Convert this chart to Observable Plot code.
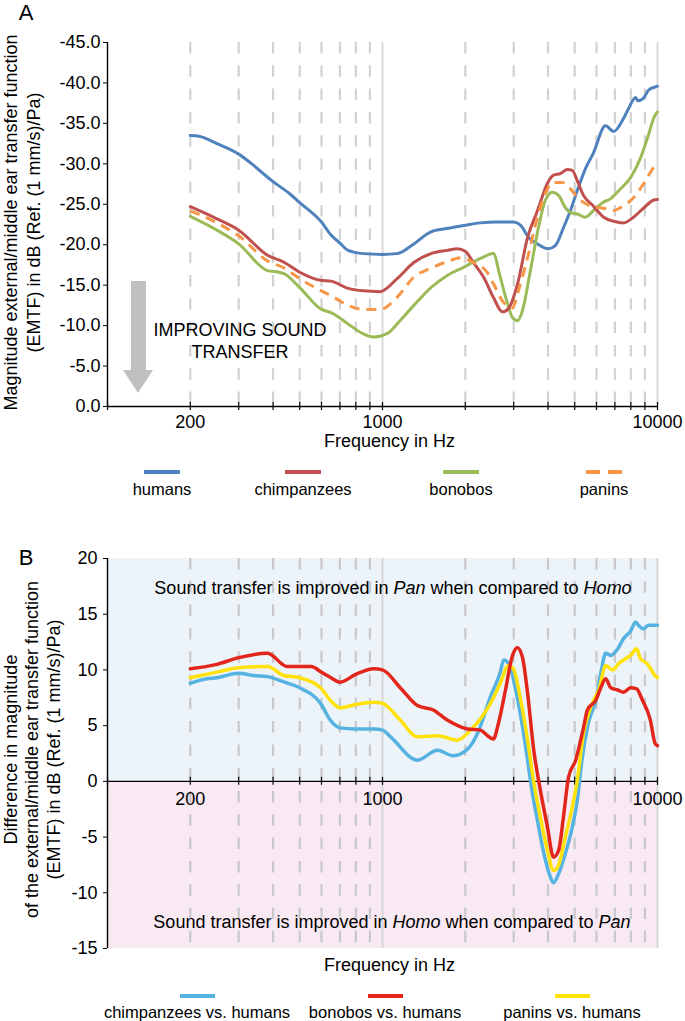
<!DOCTYPE html>
<html>
<head>
<meta charset="utf-8">
<script src="https://cdn.jsdelivr.net/npm/d3@7"></script>
<script src="https://cdn.jsdelivr.net/npm/@observablehq/plot@0.6"></script>
<style>
  html, body { margin: 0; padding: 0; background: #fff; }
  #wrap { position: relative; width: 685px; height: 1021px; overflow: hidden;
          font-family: "Liberation Sans", Arial, sans-serif; color: #000; }
  .ctr { position: absolute; transform: translate(-50%, -50%); white-space: nowrap; line-height: 1; }
</style>
</head>
<body>
<div id="wrap"></div>
<script>
// ---------------- DATA ----------------
// Panel A: EMTF magnitude (dB re 1 mm/s/Pa)
const seriesA = ["humans", "chimpanzees", "bonobos", "panins"];
const humansHz = [200,215,250,300,340,380,400,460,500,600,650,700,750,850,1000,1130,1300,1500,1720,2000,2270,2600,3000,3180,3400,3660,4000,4250,4550,4820,5110,5470,5840,6470,6930,7520,7840,8330,8470,8880,9270,9800,10000];
const humansDb = [-33.5,-33.4,-32.5,-31.2,-29.8,-28.4,-27.8,-26.3,-25.2,-22.8,-21.2,-20.2,-19.3,-18.9,-18.8,-18.9,-20.1,-21.6,-22.0,-22.4,-22.7,-22.8,-22.8,-22.4,-20.9,-20.1,-19.5,-19.9,-22.1,-24.2,-26.7,-29.4,-31.3,-34.7,-34.0,-35.6,-36.8,-38.2,-37.8,-38.1,-39.1,-39.5,-39.6];
const chimpsHz = [200,250,300,382,440,500,595,650,750,850,980,1130,1300,1500,1720,1870,2000,2140,2330,2530,2730,2870,3100,3370,3660,3980,4190,4440,4700,4900,5110,5380,5840,6370,6930,7520,8180,8880,9650,10000];
const chimpsDb = [-24.7,-23.2,-21.8,-18.7,-17.8,-16.6,-15.6,-15.5,-14.6,-14.3,-14.2,-15.8,-17.8,-18.9,-19.3,-19.5,-19.2,-17.8,-16.0,-13.5,-11.7,-12.1,-15.2,-20.9,-24.2,-27.6,-28.6,-28.8,-29.3,-29.2,-27.9,-26.1,-24.8,-23.4,-22.9,-22.7,-23.4,-24.5,-25.5,-25.6];
const bonobosHz = [200,250,300,382,420,440,500,600,650,750,850,930,1050,1130,1300,1500,1720,1970,2270,2530,2680,2850,2970,3100,3230,3450,3690,3910,4150,4370,4620,4820,5110,5470,5840,6310,6760,7330,7980,8670,9140,9800,10000];
const bonobosDb = [-23.5,-21.8,-20.1,-16.8,-16.6,-16.4,-14.7,-12.0,-11.6,-10.2,-9.0,-8.6,-9.1,-10.2,-12.5,-14.7,-16.2,-17.2,-18.3,-18.9,-16.0,-12.7,-11.0,-10.6,-11.9,-16.8,-22.1,-25.5,-26.5,-26.1,-24.6,-24.0,-23.8,-23.4,-24.2,-25.2,-25.7,-26.9,-28.3,-30.7,-32.9,-36.0,-36.4];
const paninsHz = [200,250,300,382,440,500,600,650,750,850,980,1130,1300,1500,1720,1920,2140,2400,2530,2750,2970,3120,3370,3660,3910,4150,4510,4820,5240,5710,6370,6870,7520,8180,8880,9650,10000];
const paninsDb = [-24.2,-22.7,-21.1,-18.0,-17.1,-15.8,-14.3,-13.7,-12.5,-12.0,-12.0,-13.5,-16.0,-17.1,-17.9,-18.4,-17.8,-16.6,-15.2,-12.9,-12.2,-14.3,-18.4,-23.4,-26.3,-27.7,-27.7,-26.9,-25.5,-24.8,-24.5,-24.2,-24.8,-25.8,-27.5,-29.5,-30.2];

// Panel B: differences (dB)
const seriesB = ["chimpanzees vs. humans", "bonobos vs. humans", "panins vs. humans"];
const chimpVsHz = [200,230,250,300,340,382,440,500,595,650,700,800,930,1000,1070,1340,1585,1810,2040,2215,2470,2680,2760,2900,3040,3230,3370,3510,3660,3840,4080,4185,4370,4620,4900,5110,5310,5600,5970,6220,6480,6760,7170,7520,7980,8330,8530,8880,9270,9800,10000];
const chimpVsDb = [8.8,9.2,9.3,9.7,9.5,9.4,8.9,8.4,7.0,5.4,4.8,4.7,4.7,4.6,4.0,1.9,2.8,2.3,2.9,4.3,7.6,9.8,10.9,10.4,8.4,4.9,1.9,-1.1,-3.5,-6.2,-8.6,-9.1,-8.3,-6.5,-4.1,-1.7,1.9,5.2,7.3,9.7,11.5,11.3,11.9,12.8,13.5,14.3,14.0,13.7,14.0,14.0,14.0];
const bonoVsHz = [200,250,300,382,450,500,550,600,650,700,800,930,1000,1160,1340,1530,1720,2040,2270,2410,2530,2640,2800,2970,3095,3230,3370,3540,3750,3980,4185,4370,4550,4750,5040,5380,5560,5970,6220,6480,6760,7170,7520,7980,8400,8810,9420,9800,10000];
const bonoVsDb = [10.1,10.5,11.1,11.5,10.3,10.3,10.3,9.8,9.3,8.9,9.6,10.1,10.0,8.4,6.8,6.4,5.5,4.7,4.6,4.1,3.8,5.2,8.2,11.3,12.0,11.1,7.9,3.0,-0.8,-4.1,-6.8,-6.2,-3.2,0.4,1.9,4.8,6.4,7.3,8.4,9.2,8.4,8.2,8.0,8.4,8.3,7.3,5.5,3.4,3.2];
const paninVsHz = [200,250,300,382,437,500,595,650,700,800,930,1000,1160,1340,1585,1870,2090,2470,2680,2870,2990,3180,3370,3540,3750,3980,4185,4370,4620,4900,5110,5380,5710,6150,6480,6870,7240,7640,7980,8400,8670,9140,9800,10000];
const paninVsDb = [9.3,9.8,10.2,10.3,9.5,9.3,8.4,7.2,6.6,6.9,7.1,7.0,5.5,4.0,4.1,3.7,4.6,7.0,8.8,10.4,10.1,7.3,3.7,0.1,-3.2,-6.2,-8.0,-7.5,-5.0,-2.3,0.1,4.3,6.6,8.4,10.4,10.0,10.6,11.0,11.3,11.9,11.0,10.6,9.5,9.3];

// Axis ticks
const gridDashedHz = [200,300,400,500,600,700,800,900,2000,3000,4000,5000,6000,7000,8000,9000];
const gridSolidHz = [1000, 10000];
const tickHz = [100,200,300,400,500,600,700,800,900,1000,2000,3000,4000,5000,6000,7000,8000,9000,10000];
const labelHz = [200, 1000, 10000];
const yTicksA = [0,-5,-10,-15,-20,-25,-30,-35,-40,-45];
const yTicksB = [20,15,10,5,0,-5,-10,-15];

// ---------------- HELPERS ----------------
const FONT = '"Liberation Sans", Arial, sans-serif';
const pts = (hz, db) => hz.map((f, i) => ({f, v: db[i]}));
const wrap = document.getElementById("wrap");
function place(el, css) { Object.assign(el.style, css); wrap.appendChild(el); return el; }
function label(html, x, y, size, extra = {}) {
  const d = document.createElement("div");
  d.className = "ctr";
  d.innerHTML = html;
  return place(d, Object.assign({left: x + "px", top: y + "px", fontSize: size + "px"}, extra));
}

const colA = {humans: "#4f81bd", chimpanzees: "#c0504d", bonobos: "#9bbb59", panins: "#f79646"};
const colB = {"chimpanzees vs. humans": "#56b2e0", "bonobos vs. humans": "#e2261c", "panins vs. humans": "#ffe20a"};

// ---------------- PANEL A ----------------
const plotA = Plot.plot({
  width: 685, height: 500,
  marginTop: 42, marginBottom: 94, marginLeft: 107, marginRight: 28,
  style: {fontFamily: FONT, fontSize: "18px", color: "#000", background: "transparent", overflow: "visible"},
  x: {type: "log", domain: [100, 10000], axis: null},
  y: {domain: [0, -45], axis: null},
  marks: [
    Plot.ruleX(gridDashedHz, {x: d => d, stroke: "#d2d2d2", strokeWidth: 2.2, strokeDasharray: "11.5,11.8"}),
    Plot.ruleX(gridSolidHz, {x: d => d, stroke: "#dadada", strokeWidth: 2}),
    Plot.axisY({ticks: yTicksA, tickFormat: d => d.toFixed(1), tickSize: 4, tickPadding: 3, label: null, fontSize: 18}),
    Plot.ruleX([100], {stroke: "#000", strokeWidth: 1.4}),
    Plot.ruleY([0], {stroke: "#000", strokeWidth: 1.4}),
    Plot.ruleX(tickHz, {x: d => d, y1: 0, y2: 0, insetTop: -4, insetBottom: -4, stroke: "#000", strokeWidth: 1.2}),
    Plot.text(labelHz, {x: d => d, y: 0, text: d => String(d), dy: 16, fontSize: 18}),
    Plot.text(["Frequency in Hz"], {text: d => d, frameAnchor: "bottom", dx: 7, dy: 40, fontSize: 18}),
    Plot.text(["Magnitude external/middle ear transfer function\n(EMTF) in dB (Ref. (1 mm/s)/Pa)"],
      {text: d => d, frameAnchor: "left", dx: -86, dy: -2, rotate: -90, lineHeight: 1.25, fontSize: 18, textAnchor: "middle", lineAnchor: "middle"}),
    Plot.line(pts(humansHz, humansDb), {x: "f", y: "v", stroke: colA.humans, strokeWidth: 3, curve: "monotone-x"}),
    Plot.line(pts(bonobosHz, bonobosDb), {x: "f", y: "v", stroke: colA.bonobos, strokeWidth: 3, curve: "monotone-x"}),
    Plot.line(pts(chimpsHz, chimpsDb), {x: "f", y: "v", stroke: colA.chimpanzees, strokeWidth: 3, curve: "monotone-x"}),
    Plot.line(pts(paninsHz, paninsDb), {x: "f", y: "v", stroke: colA.panins, strokeWidth: 3, strokeDasharray: "10,7", strokeLinecap: "butt", curve: "monotone-x"})
  ]
});
place(plotA, {position: "absolute", left: "0px", top: "0px"});

// ---------------- PANEL B ----------------
const plotB = Plot.plot({
  width: 685, height: 490,
  marginTop: 58, marginBottom: 42, marginLeft: 107, marginRight: 28,
  style: {fontFamily: FONT, fontSize: "18px", color: "#000", background: "transparent", overflow: "visible"},
  x: {type: "log", domain: [100, 10000], axis: null},
  y: {domain: [-15, 20], axis: null},
  marks: [
    Plot.rect([0], {x1: 100, x2: 10000, y1: 0, y2: 20, fill: "#ecf3f9"}),
    Plot.rect([0], {x1: 100, x2: 10000, y1: -15, y2: 0, fill: "#f9e9f3"}),
    Plot.ruleX(gridDashedHz, {x: d => d, stroke: "#c9c9cc", strokeWidth: 2.2, strokeDasharray: "11.5,11.8"}),
    Plot.ruleX(gridSolidHz, {x: d => d, stroke: "#d6d6d8", strokeWidth: 2}),
    Plot.axisY({ticks: yTicksB, tickFormat: d => String(d), tickSize: 4, tickPadding: 6, label: null, fontSize: 18}),
    Plot.ruleX([100], {stroke: "#000", strokeWidth: 1.4}),
    Plot.ruleY([0], {stroke: "#000", strokeWidth: 1.4}),
    Plot.ruleX(tickHz, {x: d => d, y1: 0, y2: 0, insetTop: -4, insetBottom: -4, stroke: "#000", strokeWidth: 1.2}),
    Plot.text(labelHz, {x: d => d, y: 0, text: d => String(d), dy: 18, fontSize: 18}),
    Plot.text(["Frequency in Hz"], {text: d => d, frameAnchor: "bottom", dx: 7, dy: 22, fontSize: 18}),
    Plot.text(["Difference in magnitude\nof the external/middle ear transfer function\n(EMTF) in dB (Ref. (1 mm/s)/Pa)"],
      {text: d => d, frameAnchor: "left", dx: -76, dy: -4, rotate: -90, lineHeight: 1.18, fontSize: 18, textAnchor: "middle", lineAnchor: "middle"}),
    Plot.line(pts(chimpVsHz, chimpVsDb), {x: "f", y: "v", stroke: colB["chimpanzees vs. humans"], strokeWidth: 3.5, curve: "monotone-x"}),
    Plot.line(pts(paninVsHz, paninVsDb), {x: "f", y: "v", stroke: colB["panins vs. humans"], strokeWidth: 3.5, curve: "monotone-x"}),
    Plot.line(pts(bonoVsHz, bonoVsDb), {x: "f", y: "v", stroke: colB["bonobos vs. humans"], strokeWidth: 3.5, curve: "monotone-x"})
  ]
});
place(plotB, {position: "absolute", left: "0px", top: "500px"});

// ---------------- ANNOTATIONS / LEGENDS (HTML) ----------------
label("A", 26, 13, 22);
label("B", 26, 558, 22);

// grey arrow "improving sound transfer"
const svgNS = "http://www.w3.org/2000/svg";
const arrow = document.createElementNS(svgNS, "svg");
arrow.setAttribute("width", "40"); arrow.setAttribute("height", "120");
const poly = document.createElementNS(svgNS, "polygon");
poly.setAttribute("points", "8,0 23,0 23,89 30,89 15,112 0,89 8,89");
poly.setAttribute("fill", "#c0c0c0");
arrow.appendChild(poly);
place(arrow, {position: "absolute", left: "123px", top: "281px"});
label("IMPROVING SOUND", 240, 330, 18);
label("TRANSFER", 240, 352, 18);

label("Sound transfer is improved in <i>Pan</i> when compared to <i>Homo</i>", 393, 588, 18);
label("Sound transfer is improved in <i>Homo</i> when compared to <i>Pan</i>", 392, 922, 18);

function legendItem(cx, lineY, textY, name, color, dashed, size, w, thick) {
  const s = document.createElementNS(svgNS, "svg");
  s.setAttribute("width", w); s.setAttribute("height", 8);
  const l = document.createElementNS(svgNS, "line");
  l.setAttribute("x1", 0); l.setAttribute("x2", w); l.setAttribute("y1", 4); l.setAttribute("y2", 4);
  l.setAttribute("stroke", color); l.setAttribute("stroke-width", thick);
  if (dashed) l.setAttribute("stroke-dasharray", "14,8");
  s.appendChild(l);
  place(s, {position: "absolute", left: (cx - w / 2) + "px", top: (lineY - 4) + "px"});
  label(name, cx, textY, size);
}
const legACx = [162, 303, 461, 604];
seriesA.forEach((n, i) => legendItem(legACx[i], 472, 489, n, colA[n], n === "panins", 16.5, 36, 4));
const legBCx = [197, 385, 572];
seriesB.forEach((n, i) => legendItem(legBCx[i], 996, 1012, n, colB[n], false, 16.5, 35, 4));
</script>
</body>
</html>
